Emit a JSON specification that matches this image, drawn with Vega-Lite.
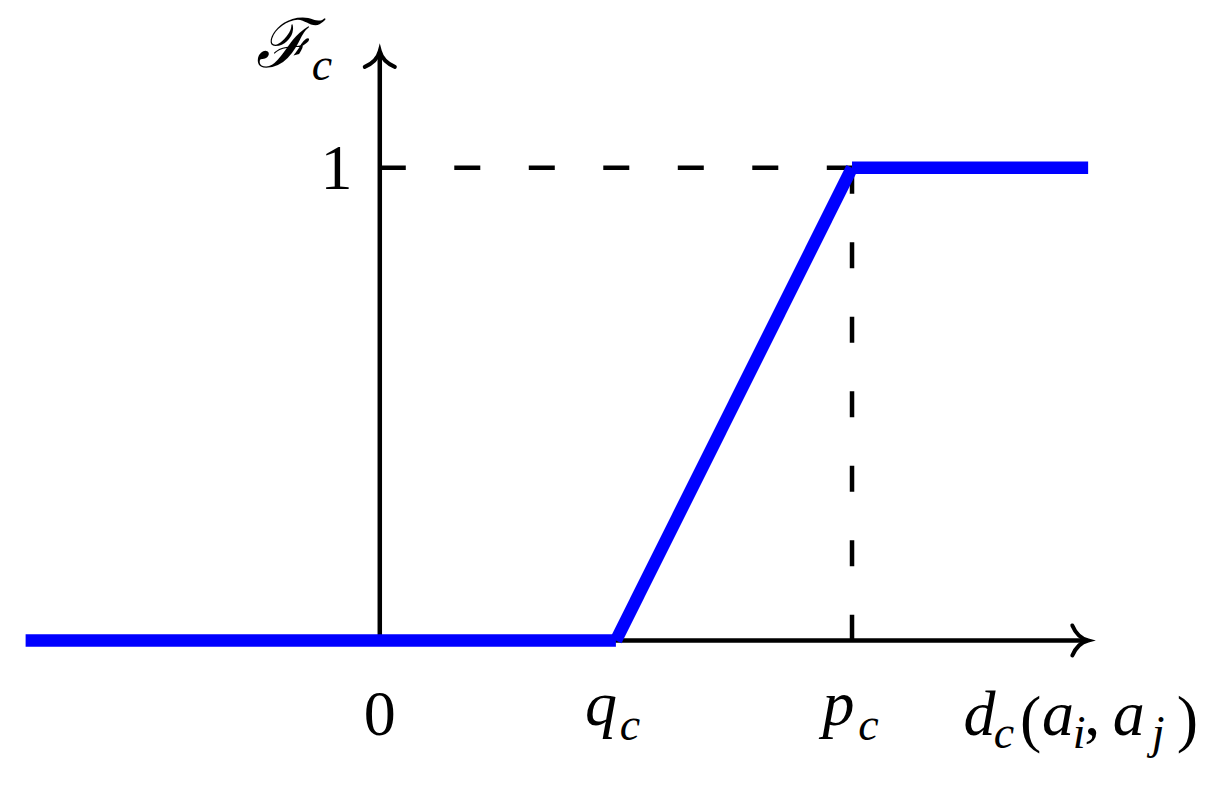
{
  "$schema": "https://vega.github.io/schema/vega-lite/v6.json",
  "width": 1218,
  "height": 787,
  "autosize": {"type": "fit", "contains": "padding"},
  "padding": 0,
  "background": "white",
  "config": {"view": {"stroke": null}},
  "datasets": {
    "axes": [
      {"x": 0, "y": 0, "x2": 2.996, "y2": 0},
      {"x": 0, "y": 0, "x2": 0, "y2": 1.243}
    ],
    "guides": [
      {"x": 0, "y": 1, "x2": 2, "y2": 1},
      {"x": 2, "y": 1, "x2": 2, "y2": 0}
    ],
    "curve": [
      {"seg": "a", "x": -1.5, "y": 0},
      {"seg": "a", "x": 1, "y": 0},
      {"seg": "b", "x": 1, "y": 0},
      {"seg": "b", "x": 2, "y": 1},
      {"seg": "c", "x": 2, "y": 1},
      {"seg": "c", "x": 3, "y": 1}
    ],
    "tipX": [{"x": 3.0, "y": 0}],
    "tipY": [{"x": 0, "y": 1.247}],
    "upright": [
      {"t": "0", "x": 0, "y": -0.2},
      {"t": "1", "x": -0.1835, "y": 0.955},
      {"t": "(", "x": 2.757, "y": -0.2106},
      {"t": ",", "x": 3.017, "y": -0.2},
      {"t": ")", "x": 3.42, "y": -0.2106}
    ],
    "italic": [
      {"t": "q", "x": 0.937, "y": -0.179},
      {"t": "p", "x": 1.943, "y": -0.179},
      {"t": "d", "x": 2.54, "y": -0.2},
      {"t": "a", "x": 2.872, "y": -0.2},
      {"t": "a", "x": 3.172, "y": -0.2}
    ],
    "subs": [
      {"t": "c", "x": 1.06, "y": -0.2106},
      {"t": "c", "x": 2.07, "y": -0.2106},
      {"t": "c", "x": 2.643, "y": -0.2275},
      {"t": "i", "x": 2.962, "y": -0.2275},
      {"t": "j", "x": 3.297, "y": -0.2275},
      {"t": "c", "x": -0.245, "y": 1.186}
    ],
    "script": [
      {"t": "ℱ", "x": -0.405, "y": 1.213}
    ]
  },
  "encoding": {
    "x": {"field": "x", "type": "quantitative", "scale": {"domain": [-1.6, 3.55], "nice": false, "zero": false}, "axis": null},
    "y": {"field": "y", "type": "quantitative", "scale": {"domain": [-0.31, 1.355], "nice": false, "zero": false}, "axis": null}
  },
  "layer": [
    {
      "data": {"name": "axes"},
      "mark": {"type": "rule", "stroke": "black", "strokeWidth": 4.5},
      "encoding": {"x2": {"field": "x2"}, "y2": {"field": "y2"}}
    },
    {
      "data": {"name": "guides"},
      "mark": {"type": "rule", "stroke": "black", "strokeWidth": 4.5, "strokeDash": [26, 48.5]},
      "encoding": {"x2": {"field": "x2"}, "y2": {"field": "y2"}}
    },
    {
      "data": {"name": "curve"},
      "mark": {"type": "line", "stroke": "#0000ff", "strokeWidth": 12.5, "strokeCap": "butt", "strokeJoin": "miter"},
      "encoding": {"detail": {"field": "seg"}}
    },
    {
      "data": {"name": "tipX"},
      "mark": {"type": "point", "shape": "M -1 -0.95 C -0.75 -0.35 -0.3 -0.08 0 0 C -0.3 0.08 -0.75 0.35 -1 0.95", "size": 1000, "filled": false, "stroke": "black", "strokeWidth": 4, "strokeCap": "round", "opacity": 1}
    },
    {
      "data": {"name": "tipY"},
      "mark": {"type": "point", "shape": "M -1 -0.95 C -0.75 -0.35 -0.3 -0.08 0 0 C -0.3 0.08 -0.75 0.35 -1 0.95", "size": 1000, "angle": -90, "filled": false, "stroke": "black", "strokeWidth": 4, "strokeCap": "round", "opacity": 1}
    },
    {
      "data": {"name": "upright"},
      "mark": {"type": "text", "font": "Liberation Serif", "fontSize": 64, "align": "center", "baseline": "alphabetic", "color": "black"},
      "encoding": {"text": {"field": "t"}}
    },
    {
      "data": {"name": "italic"},
      "mark": {"type": "text", "font": "Liberation Serif", "fontStyle": "italic", "fontSize": 64, "align": "center", "baseline": "alphabetic", "color": "black"},
      "encoding": {"text": {"field": "t"}}
    },
    {
      "data": {"name": "subs"},
      "mark": {"type": "text", "font": "Liberation Serif", "fontStyle": "italic", "fontSize": 46, "align": "center", "baseline": "alphabetic", "color": "black"},
      "encoding": {"text": {"field": "t"}}
    },
    {
      "data": {"name": "script"},
      "mark": {"type": "text", "font": "DejaVu Serif", "fontStyle": "italic", "fontSize": 68, "align": "center", "baseline": "alphabetic", "color": "black"},
      "encoding": {"text": {"field": "t"}}
    }
  ]
}
